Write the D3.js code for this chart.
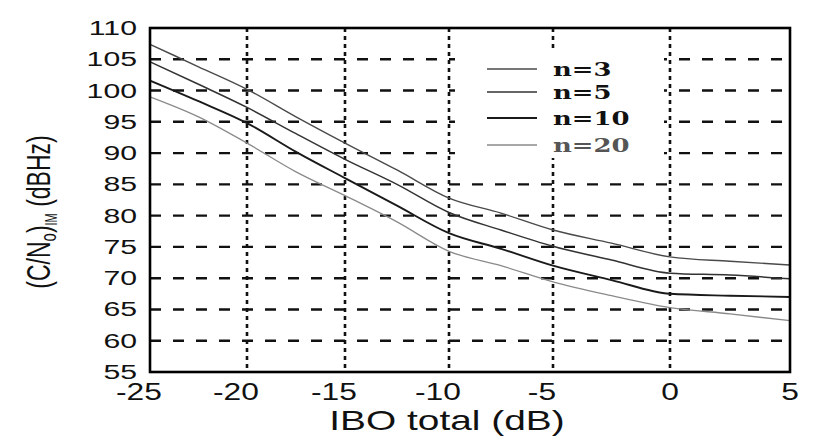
<!DOCTYPE html>
<html>
<head>
<meta charset="utf-8">
<script src="https://cdn.jsdelivr.net/npm/d3@7/dist/d3.min.js"></script>
<style>
  html, body { margin: 0; padding: 0; background: #ffffff; }
  svg { display: block; }
</style>
</head>
<body>
<svg id="chart" width="828" height="436"></svg>
<script>
// ---- data ----
const ibo = [-25, -22.5, -20, -17.5, -15, -12.5, -10, -7.5, -5, -2.5, 0, 2.5, 5];
const cn_n3  = [107.4, 103.8, 100.2, 95.8, 91.6, 87.3, 82.8, 80.4, 77.7, 75.6, 73.4, 72.7, 72.1];
const cn_n5  = [104.6, 101.0, 97.3, 93.1, 89.0, 85.0, 80.5, 77.7, 75.1, 72.9, 70.8, 70.5, 69.9];
const cn_n10 = [101.6, 98.3, 94.8, 90.2, 86.0, 81.6, 77.2, 74.7, 72.0, 69.7, 67.5, 67.2, 67.0];
const cn_n20 = [99.0, 95.8, 91.6, 87.0, 83.2, 79.0, 74.3, 72.0, 69.4, 67.2, 65.3, 64.3, 63.2];
const seriesNames = ["n=3", "n=5", "n=10", "n=20"];
const xTicks = [-25, -20, -15, -10, -5, 0, 5];
const yTicks = [55, 60, 65, 70, 75, 80, 85, 90, 95, 100, 105, 110];
const xTitle = "IBO total (dB)";

// ---- styling ----
const seriesValues = [cn_n3, cn_n5, cn_n10, cn_n20];
const seriesColor = ["#4a4a4a", "#333333", "#1a1a1a", "#8a8a8a"];
const seriesWidth = [1.4, 1.5, 1.9, 1.3];
const SX = 1.44; // horizontal stretch of the scanned figure

const svg = d3.select("#chart");
const L = 150, R = 790, T = 28, B = 372;

// scanned picture has uneven horizontal spacing of the ticks
const x = d3.scaleLinear()
  .domain(xTicks)
  .range([150, 247, 345, 449, 553, 670, 790]);
const y = d3.scaleLinear().domain([55, 110]).range([B, T]);

// grid: horizontal dashed
svg.append("g").selectAll("line").data(yTicks.filter(v => v > 55 && v < 110)).join("line")
  .attr("x1", L).attr("x2", R)
  .attr("y1", d => y(d)).attr("y2", d => y(d))
  .attr("stroke", "#111").attr("stroke-width", 2.4)
  .attr("stroke-dasharray", "11,12");

// grid: vertical dotted
svg.append("g").selectAll("line").data(xTicks.filter(v => v > -25 && v < 5)).join("line")
  .attr("x1", d => x(d)).attr("x2", d => x(d))
  .attr("y1", T).attr("y2", B)
  .attr("stroke", "#111").attr("stroke-width", 2.6)
  .attr("stroke-dasharray", "4,4");

// legend background (blanks the grid between the -10 and 0 gridlines)
svg.append("rect")
  .attr("x", x(-10) + 6).attr("y", 48)
  .attr("width", x(0) - x(-10) - 12).attr("height", 110)
  .attr("fill", "#ffffff");

// curves
const line = d3.line().x((d, i) => x(ibo[i])).y(d => y(d)).curve(d3.curveMonotoneX);
svg.append("g").selectAll("path").data(seriesValues).join("path")
  .attr("d", d => line(d))
  .attr("fill", "none")
  .attr("stroke", (d, i) => seriesColor[i])
  .attr("stroke-width", (d, i) => seriesWidth[i]);

// frame
svg.append("rect").attr("x", L).attr("y", T).attr("width", R - L).attr("height", B - T)
  .attr("fill", "none").attr("stroke", "#000").attr("stroke-width", 2.6);

// y tick labels
svg.append("g").selectAll("text").data(yTicks).join("text")
  .attr("transform", d => `translate(137,${y(d) + 7}) scale(${SX},1)`)
  .attr("text-anchor", "end")
  .attr("font-family", "Liberation Sans, Arial, sans-serif")
  .attr("font-size", 21)
  .attr("fill", "#111")
  .text(d => d);

// x tick labels
svg.append("g").selectAll("text").data(xTicks).join("text")
  .attr("transform", d => `translate(${x(d) + (d < 0 ? -11 : 0)},400) scale(${SX * 0.96},1)`)
  .attr("text-anchor", "middle")
  .attr("font-family", "Liberation Sans, Arial, sans-serif")
  .attr("font-size", 23)
  .attr("fill", "#111")
  .text(d => d);

// x title
svg.append("text")
  .attr("transform", `translate(447,430) scale(${SX},1)`)
  .attr("text-anchor", "middle")
  .attr("font-family", "Liberation Sans, Arial, sans-serif")
  .attr("font-size", 27)
  .attr("fill", "#111")
  .text(xTitle);

// y title
const yt = svg.append("text")
  .attr("transform", `translate(50,212) rotate(-90) scale(1,${SX})`)
  .attr("text-anchor", "middle")
  .attr("font-family", "Liberation Sans, Arial, sans-serif")
  .attr("font-size", 23)
  .attr("fill", "#111");
yt.append("tspan").text("(C/N");
yt.append("tspan").attr("font-size", 15).attr("dy", 4).text("o");
yt.append("tspan").attr("dy", -4).text(")");
yt.append("tspan").attr("font-size", 11).attr("dy", 5).text("IM");
yt.append("tspan").attr("dy", -5).text(" (dBHz)");

// legend
const legY = [69, 92, 118, 145];
const leg = svg.append("g").selectAll("g").data(seriesNames).join("g");
leg.append("line")
  .attr("x1", 487).attr("x2", 537)
  .attr("y1", (d, i) => legY[i]).attr("y2", (d, i) => legY[i])
  .attr("stroke", (d, i) => seriesColor[i])
  .attr("stroke-width", (d, i) => seriesWidth[i]);
leg.append("text")
  .attr("transform", (d, i) => `translate(553,${legY[i] + 6.5}) scale(${SX},1)`)
  .attr("font-family", "DejaVu Serif, serif")
  .attr("font-weight", "bold")
  .attr("font-size", 18)
  .attr("fill", (d, i) => i === 3 ? "#555" : "#111")
  .text(d => d);
</script>
</body>
</html>
